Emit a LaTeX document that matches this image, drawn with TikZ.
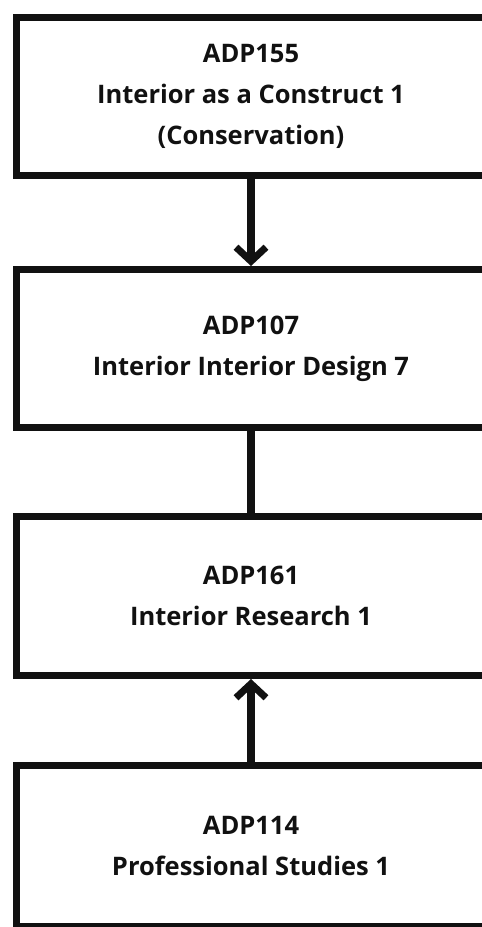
\documentclass[tikz,border=0pt]{standalone}
\usepackage{fontspec}
\setmainfont{Open Sans}
\usetikzlibrary{arrows.meta}
\definecolor{ink}{HTML}{111111}
\begin{document}
\begin{tikzpicture}[x=1pt,y=-1pt,
  course/.style={draw=ink,line width=7pt,fill=white,minimum width=470pt,
    align=center,text=ink,font=\bfseries\fontsize{25.5}{41}\selectfont,inner sep=0pt},
  link/.style={draw=ink,line width=7.5pt},
  barb/.style={-{Straight Barb[length=14pt,width=30pt,line width=7pt]}}]
\useasboundingbox (0,0) rectangle (482,927);
\clip (0,0) rectangle (482,927);
\fill[white] (0,0) rectangle (482,927);
\node[course,minimum height=158pt] (a) at (251,96.5) {ADP155\\Interior as a Construct 1\\(Conservation)};
\node[course,minimum height=158pt] (b) at (251,348.5) {ADP107\\Interior Interior Design 7};
\node[course,minimum height=159pt] (c) at (251,596) {ADP161\\Interior Research 1};
\node[course,minimum height=161pt] (d) at (251,846) {ADP114\\Professional Studies 1};
\draw[link,barb] (a.south) -- (b.north);
\draw[link] (b.south) -- (c.north);
\draw[link,barb] (d.north) -- (c.south);
\end{tikzpicture}
\end{document}
